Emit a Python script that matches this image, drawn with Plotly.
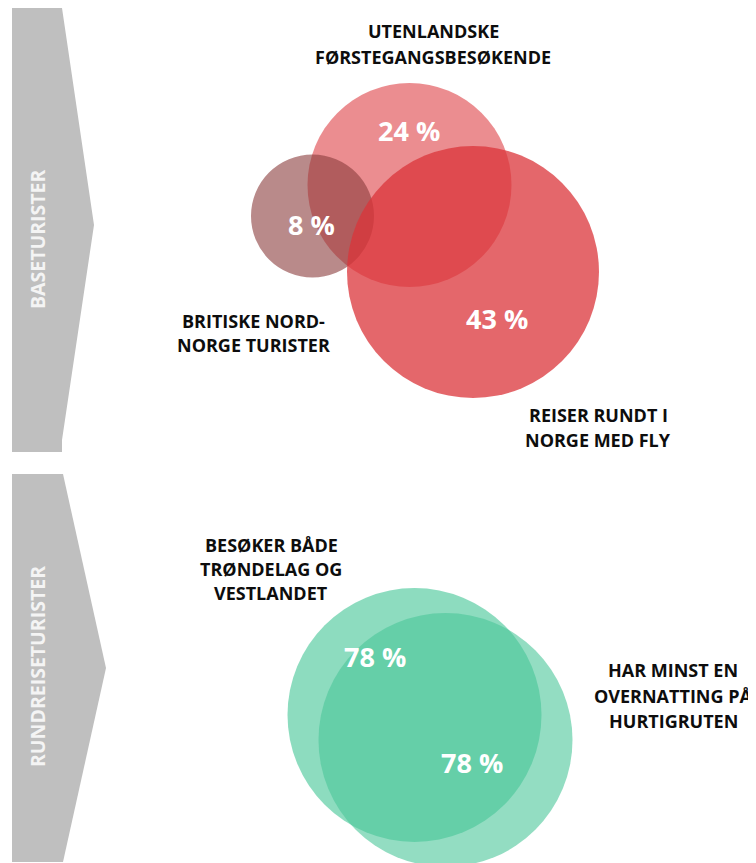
import plotly.graph_objects as go

# ---- data ----
group_labels = ["BASETURISTER", "RUNDREISETURISTER"]

top_set_labels = ["UTENLANDSKE\nFØRSTEGANGSBESØKENDE",
                  "BRITISKE NORD-\nNORGE TURISTER",
                  "REISER RUNDT I\nNORGE MED FLY"]
top_values = [24, 8, 43]

bottom_set_labels = ["BESØKER BÅDE\nTRØNDELAG OG\nVESTLANDET",
                     "HAR MINST EN\nOVERNATTING PÅ\nHURTIGRUTEN"]
bottom_values = [78, 78]

# ---- layout / geometry (page pixel space) ----
W, H = 756, 863
OFF = 8  # default page body margin
FONT = "Open Sans"

# circles: (cx, cy, r, fill)
top_circles = [
    (409.5, 185, 102, "rgba(220,55,60,0.57)"),   # utenlandske
    (312.5, 216, 61.5, "rgba(138,60,60,0.60)"),  # britiske
    (473, 272, 126, "rgba(219,52,58,0.75)"),     # reiser med fly
]
top_value_pos = [(408.5, 130), (311, 224), (496.5, 318)]
top_label_pos = [(433, 31, 26), (253, 321, 24), (598, 415, 25)]

bottom_circles = [
    (414.5, 715, 127, "rgba(75,199,153,0.63)"),
    (445.5, 740, 127, "rgba(75,199,153,0.60)"),
]
bottom_value_pos = [(374.5, 656.5), (472, 762)]
bottom_label_pos = [(271, 545, 24), (673, 670, 25.5)]

arrows = [
    [(12, 8), (62, 8), (94, 225), (62, 440), (62, 452), (12, 452)],
    [(12, 474), (63, 474), (106, 668), (63, 862), (12, 862)],
]
arrow_text_pos = [(37, 239), (37, 667)]

fig = go.Figure()
shapes = []
annotations = []

for poly in arrows:
    path = "M " + " L ".join(f"{x},{y}" for x, y in poly) + " Z"
    shapes.append(dict(type="path", path=path, xref="x", yref="y",
                       fillcolor="#bfbfbf", line=dict(width=0), layer="below"))

for (x, y), txt in zip(arrow_text_pos, group_labels):
    annotations.append(dict(x=x, y=y, xref="x", yref="y", text=f"<b>{txt}</b>",
                            showarrow=False, textangle=-90,
                            font=dict(family=FONT, size=19.5, color="#f4f4f4")))

for cx, cy, r, fill in top_circles + bottom_circles:
    shapes.append(dict(type="circle", xref="x", yref="y",
                       x0=cx - r, x1=cx + r, y0=cy - r, y1=cy + r,
                       fillcolor=fill, line=dict(width=0), layer="above"))

for (x, y), v in zip(top_value_pos + bottom_value_pos, top_values + bottom_values):
    annotations.append(dict(x=x, y=y, xref="x", yref="y", text=f"<b>{v} %</b>",
                            showarrow=False,
                            font=dict(family=FONT, size=27, color="white")))

for (x, y, dy), lab in zip(top_label_pos + bottom_label_pos,
                           top_set_labels + bottom_set_labels):
    for i, line in enumerate(lab.split("\n")):
        annotations.append(dict(x=x, y=y + i * dy, xref="x", yref="y",
                                text=f"<b>{line}</b>", showarrow=False,
                                font=dict(family=FONT, size=18, color="#0d0d0d")))

fig.update_layout(
    width=W, height=H,
    margin=dict(l=0, r=0, t=0, b=0),
    paper_bgcolor="white", plot_bgcolor="white",
    xaxis=dict(range=[OFF, W + OFF], visible=False, fixedrange=True),
    yaxis=dict(range=[H + OFF, OFF], visible=False, fixedrange=True),
    shapes=shapes, annotations=annotations,
    showlegend=False,
)

fig.write_html("out.html")
